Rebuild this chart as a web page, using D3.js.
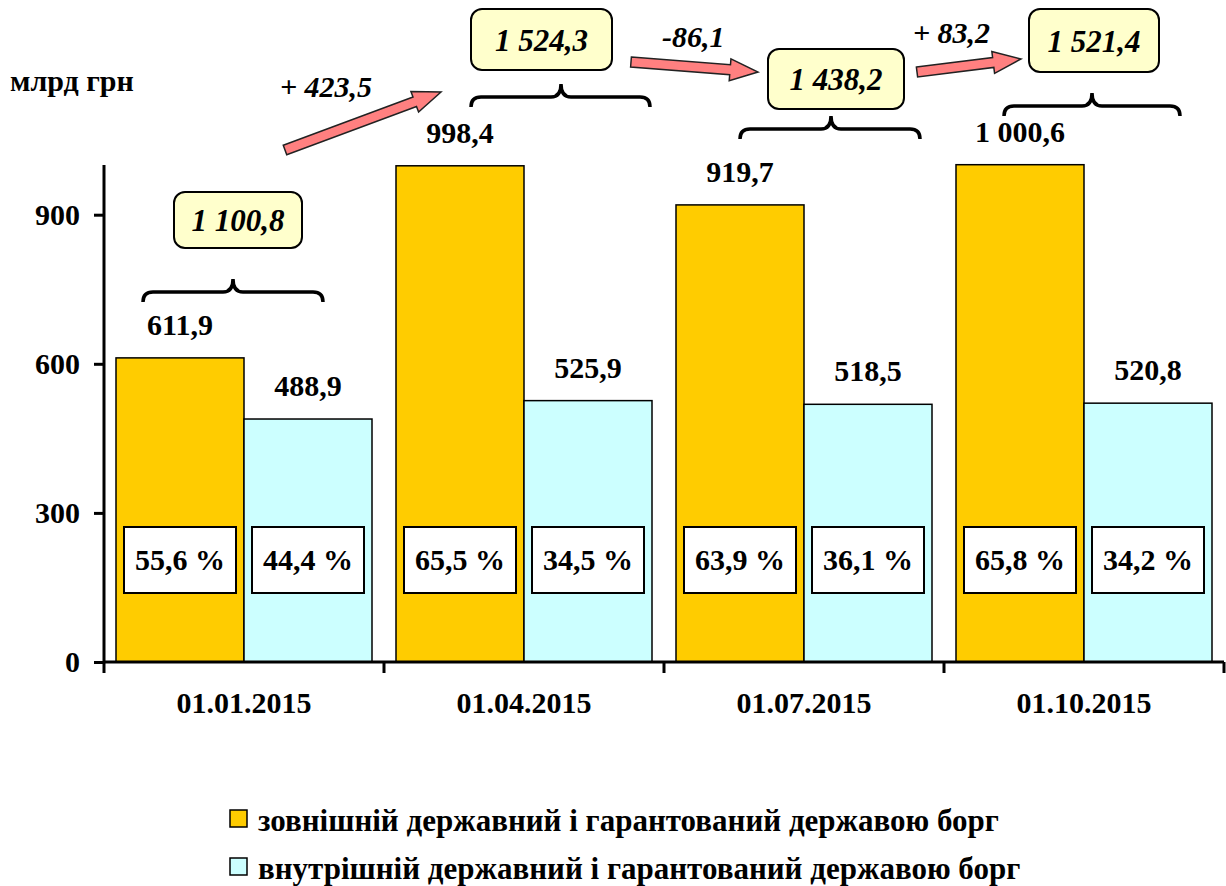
<!DOCTYPE html>
<html>
<head>
<meta charset="utf-8">
<script src="https://cdn.jsdelivr.net/npm/d3@7/dist/d3.min.js"></script>
</head>
<body style="margin:0">
<script>
// chart data
var dates = ["01.01.2015", "01.04.2015", "01.07.2015", "01.10.2015"]
var external = [611.9, 998.4, 919.7, 1000.6]
var domestic = [488.9, 525.9, 518.5, 520.8]
var externalShare = ["55,6 %", "65,5 %", "63,9 %", "65,8 %"]
var domesticShare = ["44,4 %", "34,5 %", "36,1 %", "34,2 %"]
var totals = ["1 100,8", "1 524,3", "1 438,2", "1 521,4"]
var changes = ["+ 423,5", "-86,1", "+ 83,2"]
var yTicks = [0, 300, 600, 900]
var seriesNames = ["зовнішній державний і гарантований державою борг",
                   "внутрішній державний і гарантований державою борг"]
var colors = ["#ffcc00", "#ccffff"]

// annotation placement (pixels): total boxes, braces, arrows
var boxPos = [[174, 192, 128, 56], [471, 9, 141, 61], [768, 49, 136, 60], [1029, 9, 130, 63]]
var bracePos = [[143, 323, 233, 292], [471, 650, 561, 97], [740, 920, 831, 129], [1004, 1180, 1092, 106]]
var arrowPos = [[285, 150, 441, 92], [631, 62, 758, 72], [917, 72, 1021, 59]]
var changePos = [[280, 97], [662, 47], [913, 43]]

var FONT = "Liberation Serif"
var svg = d3.select("body").append("svg")
  .attr("width", 1226).attr("height", 886)

var x = d3.scaleBand().domain(dates).range([104, 1224]).paddingInner(24 / 280).paddingOuter(12 / 280)
var xs = d3.scaleBand().domain([0, 1]).range([0, x.bandwidth()])
var y = d3.scaleLinear().domain([0, 1000]).range([662, 165])

var flat = []
dates.forEach(function(d, i) {
  flat.push({date: d, s: 0, v: external[i], share: externalShare[i]})
  flat.push({date: d, s: 1, v: domestic[i], share: domesticShare[i]})
})

function fmt(v) { return d3.format(",.1f")(v).replace(",", " ").replace(".", ",") }

// all texts go into this layer, drawn last
var marks = svg.append("g")
var texts = svg.append("g")

function label(size) {
  return texts.append("text")
    .attr("font-family", FONT)
    .attr("font-weight", "bold")
    .attr("font-size", size)
}

// bars
marks.selectAll("rect.bar")
  .data(flat)
  .enter()
  .append("rect")
  .attr("class", "bar")
  .attr("x", function(d) { return x(d.date) + xs(d.s) })
  .attr("width", xs.bandwidth())
  .attr("y", function(d) { return y(d.v) })
  .attr("height", function(d) { return y(0) - y(d.v) })
  .attr("fill", function(d) { return colors[d.s] })
  .attr("stroke", "#000")
  .attr("stroke-width", 1.5)

// percentage boxes
flat.forEach(function(d) {
  var cx = x(d.date) + xs(d.s) + xs.bandwidth() / 2
  marks.append("rect")
    .attr("x", cx - 56).attr("width", 112)
    .attr("y", 527).attr("height", 66)
    .attr("fill", "#fff").attr("stroke", "#000").attr("stroke-width", 2)
  label(30).attr("x", cx).attr("y", 570).attr("text-anchor", "middle").text(d.share)
  label(30).attr("x", cx).attr("y", y(d.v) - 23).attr("text-anchor", "middle").text(fmt(d.v))
})

// axes
var yAxis = d3.axisLeft(y).tickValues(yTicks).tickSize(10).tickFormat("")
marks.append("g")
  .attr("transform", "translate(104,0)")
  .call(yAxis)
  .call(function(g) {
    g.select(".domain").attr("d", "M0," + y(1000) + "V" + y(0)).attr("stroke-width", 3)
    g.selectAll(".tick line").attr("stroke-width", 3)
  })
yTicks.forEach(function(t) {
  label(30).attr("x", 80).attr("y", y(t) + 10).attr("text-anchor", "end").text(t)
})

var xAxis = d3.axisBottom(x).tickSize(0).tickFormat("")
marks.append("g")
  .attr("transform", "translate(0," + y(0) + ")")
  .call(xAxis)
  .call(function(g) {
    g.select(".domain").attr("d", "M104,0H1224").attr("stroke-width", 3)
  })
dates.forEach(function(d) {
  label(30).attr("x", x(d) + x.bandwidth() / 2).attr("y", 713).attr("text-anchor", "middle").text(d)
})

// category separator ticks
marks.selectAll("line.sep")
  .data(dates.concat(["end"]))
  .enter()
  .append("line")
  .attr("class", "sep")
  .attr("x1", function(d, i) { return 104 + i * x.step() })
  .attr("x2", function(d, i) { return 104 + i * x.step() })
  .attr("y1", y(0)).attr("y2", y(0) + 11)
  .attr("stroke", "#000").attr("stroke-width", 3)

// unit label
label(30).attr("x", 10).attr("y", 91).text("млрд грн")

// braces
function bracePath(b) {
  var x0 = b[0], x1 = b[1], cx = b[2], yb = b[3], r = 10
  return "M" + x0 + "," + (yb + 10) +
    "Q" + x0 + "," + yb + " " + (x0 + r) + "," + yb +
    "L" + (cx - r) + "," + yb +
    "Q" + cx + "," + yb + " " + cx + "," + (yb - 13) +
    "Q" + cx + "," + yb + " " + (cx + r) + "," + yb +
    "L" + (x1 - r) + "," + yb +
    "Q" + x1 + "," + yb + " " + x1 + "," + (yb + 10)
}
marks.selectAll("path.brace")
  .data(bracePos)
  .enter()
  .append("path")
  .attr("class", "brace")
  .attr("d", bracePath)
  .attr("fill", "none").attr("stroke", "#000").attr("stroke-width", 3.5)

// total boxes
totals.forEach(function(t, i) {
  var b = boxPos[i]
  marks.append("rect")
    .attr("x", b[0]).attr("y", b[1]).attr("width", b[2]).attr("height", b[3])
    .attr("rx", 11)
    .attr("fill", "#ffffcc").attr("stroke", "#000").attr("stroke-width", 2)
  label(31).attr("x", b[0] + b[2] / 2).attr("y", b[1] + b[3] / 2 + 11)
    .attr("text-anchor", "middle").attr("font-style", "italic").text(t)
})

// arrows
function arrowPath(a) {
  var dx = a[2] - a[0], dy = a[3] - a[1]
  var len = Math.sqrt(dx * dx + dy * dy)
  var hl = 28, sw = 5, hw = 11
  return "M0," + (-sw) + "L" + (len - hl) + "," + (-sw) + "L" + (len - hl) + "," + (-hw) +
    "L" + len + ",0L" + (len - hl) + "," + hw + "L" + (len - hl) + "," + sw + "L0," + sw + "Z"
}
marks.selectAll("path.arrow")
  .data(arrowPos)
  .enter()
  .append("path")
  .attr("class", "arrow")
  .attr("d", arrowPath)
  .attr("transform", function(a) {
    var ang = Math.atan2(a[3] - a[1], a[2] - a[0]) * 180 / Math.PI
    return "translate(" + a[0] + "," + a[1] + ") rotate(" + ang + ")"
  })
  .attr("fill", "#ff8080").attr("stroke", "#222").attr("stroke-width", 1.5)

changes.forEach(function(c, i) {
  label(30).attr("x", changePos[i][0]).attr("y", changePos[i][1])
    .attr("font-style", "italic").text(c)
})

// legend
seriesNames.forEach(function(n, i) {
  marks.append("rect")
    .attr("x", 230).attr("y", 810 + i * 48)
    .attr("width", 17).attr("height", 17)
    .attr("fill", colors[i])
    .attr("stroke", "#000").attr("stroke-width", 1.5)
  label(31).attr("x", 258).attr("y", 831 + i * 48).text(n)
})
</script>
</body>
</html>
